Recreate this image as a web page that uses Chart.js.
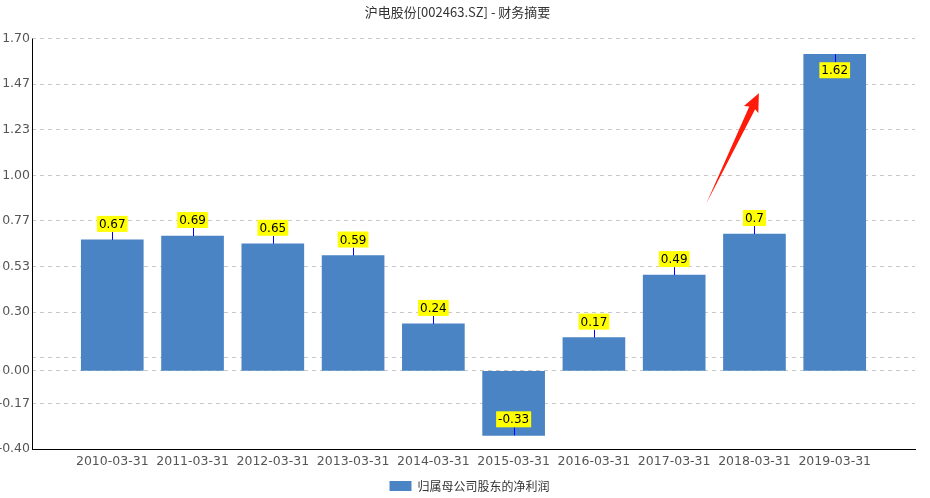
<!DOCTYPE html>
<html>
<head>
<meta charset="utf-8">
<script src="https://cdn.jsdelivr.net/npm/chart.js@4"></script>
<style>
  body { margin: 0; background: #fff; }
  #wrap { width: 930px; height: 498px; }
</style>
</head>
<body>
<div id="wrap"><canvas id="chart" width="930" height="498"></canvas></div>
<script>
// data
const periods = ['2010-03-31', '2011-03-31', '2012-03-31', '2013-03-31', '2014-03-31',
  '2015-03-31', '2016-03-31', '2017-03-31', '2018-03-31', '2019-03-31'];
const netProfit = [0.67, 0.69, 0.65, 0.59, 0.24, -0.33, 0.17, 0.49, 0.7, 1.62];
const yTicks = [-0.4, -0.1667, 0, 0.0667, 0.3, 0.5333, 0.7667, 1.0, 1.2333, 1.4667, 1.7];
const hiddenTicks = [0.0667];

// empty slot on each side, like the original
const labels = [''].concat(periods, ['']);
const values = [null].concat(netProfit, [null]);

const font = '"Microsoft YaHei", "Noto Sans CJK SC", sans-serif';
const numFont = '"DejaVu Sans", sans-serif';

const valueLabels = {
  id: 'valueLabels',
  afterDatasetsDraw(chart) {
    const ctx = chart.ctx;
    const area = chart.chartArea;
    const meta = chart.getDatasetMeta(0);
    ctx.save();
    ctx.font = '12px "DejaVu Sans", sans-serif';
    ctx.textAlign = 'center';
    ctx.textBaseline = 'middle';
    meta.data.forEach((bar, i) => {
      const v = values[i];
      if (v === null) return;
      const txt = String(v);
      const w = ctx.measureText(txt).width + 4;
      const h = 16;
      const lead = 8;
      let dir = v >= 0 ? -1 : 1;
      // flip inside the bar if it would leave the plot
      const y0 = bar.y;
      const far = y0 + dir * (lead + h);
      if (far < area.top || far > area.bottom) dir = -dir;
      const y1 = y0 + dir * lead;
      ctx.strokeStyle = '#0000ff';
      ctx.lineWidth = 1;
      ctx.beginPath();
      ctx.moveTo(Math.round(bar.x) + 0.5, y0);
      ctx.lineTo(Math.round(bar.x) + 0.5, y1);
      ctx.stroke();
      const by = dir < 0 ? y1 - h : y1;
      ctx.fillStyle = '#ffff00';
      ctx.fillRect(bar.x - w / 2, by, w, h);
      ctx.fillStyle = '#000';
      ctx.fillText(txt, bar.x, by + h / 2 + 1);
    });
    ctx.restore();
  }
};

// solid left axis line (grid lines stay dashed)
const leftAxis = {
  id: 'leftAxis',
  afterDraw(chart) {
    const a = chart.chartArea;
    const ctx = chart.ctx;
    ctx.save();
    ctx.strokeStyle = '#000';
    ctx.lineWidth = 1;
    ctx.beginPath();
    ctx.moveTo(Math.round(a.left) + 0.5, a.top);
    ctx.lineTo(Math.round(a.left) + 0.5, a.bottom);
    ctx.stroke();
    ctx.restore();
  }
};

// centre the legend under the plot area and nudge it down a little
const legendShift = {
  id: 'legendShift',
  afterLayout(chart) {
    const lg = chart.legend;
    const a = chart.chartArea;
    const dx = (a.left + a.right) / 2 - (lg.left + lg.right) / 2 - 4;
    lg.left += dx;
    lg.right += dx;
    lg.top += 4;
    lg.bottom += 4;
  }
};

// red trend arrow between 2017 and 2019
const trendArrow = {
  id: 'trendArrow',
  afterDatasetsDraw(chart) {
    const xs = chart.scales.x, ys = chart.scales.y;
    const tx = xs.getPixelForValue(8.4), ty = ys.getPixelForValue(0.856);
    const hx = xs.getPixelForValue(9.055), hy = ys.getPixelForValue(1.42);
    const ang = Math.atan2(hy - ty, hx - tx);
    const len = Math.hypot(hx - tx, hy - ty);
    const ctx = chart.ctx;
    ctx.save();
    ctx.translate(tx, ty);
    ctx.rotate(ang);
    ctx.fillStyle = '#ff1a0a';
    ctx.beginPath();
    ctx.moveTo(0, 0);
    ctx.lineTo(len - 16, -3);
    ctx.lineTo(len - 18, -8);
    ctx.lineTo(len, 0);
    ctx.lineTo(len - 18, 8);
    ctx.lineTo(len - 16, 3.5);
    ctx.closePath();
    ctx.fill();
    ctx.restore();
  }
};

new Chart(document.getElementById('chart'), {
  type: 'bar',
  data: {
    labels: labels,
    datasets: [{
      label: '归属母公司股东的净利润',
      data: values,
      backgroundColor: '#4a84c4',
      barThickness: 62
    }]
  },
  options: {
    responsive: false,
    animation: false,
    layout: { padding: { left: 0, right: 15, top: 0, bottom: 0 } },
    plugins: {
      title: {
        display: true,
        text: '沪电股份[002463.SZ] - 财务摘要',
        color: '#333',
        font: { family: font, size: 13, weight: 'normal' },
        padding: { top: 4, bottom: 19 }
      },
      legend: {
        position: 'bottom',
        labels: {
          color: '#333',
          font: { family: font, size: 12 },
          boxWidth: 22,
          boxHeight: 10,
          padding: 2
        }
      },
      tooltip: { enabled: false }
    },
    scales: {
      x: {
        offset: false,
        grid: { display: false, drawTicks: false },
        border: { color: '#000', width: 1 },
        ticks: {
          color: '#555',
          font: { family: numFont, size: 12.5 },
          autoSkip: false,
          maxRotation: 0,
          padding: 5
        }
      },
      y: {
        min: -0.4,
        max: 1.7,
        afterBuildTicks(scale) {
          scale.ticks = yTicks.map(v => ({ value: v }));
        },
        afterFit(scale) { scale.width = 32; },
        grid: { color: '#c8c8c8', drawTicks: false },
        border: { display: false, dash: [4, 4] },
        ticks: {
          color: '#555',
          font: { family: numFont, size: 12.5 },
          padding: 2,
          callback: v => hiddenTicks.includes(v) ? '' : v.toFixed(2)
        }
      }
    }
  },
  plugins: [valueLabels, trendArrow, leftAxis, legendShift]
});
</script>
</body>
</html>
